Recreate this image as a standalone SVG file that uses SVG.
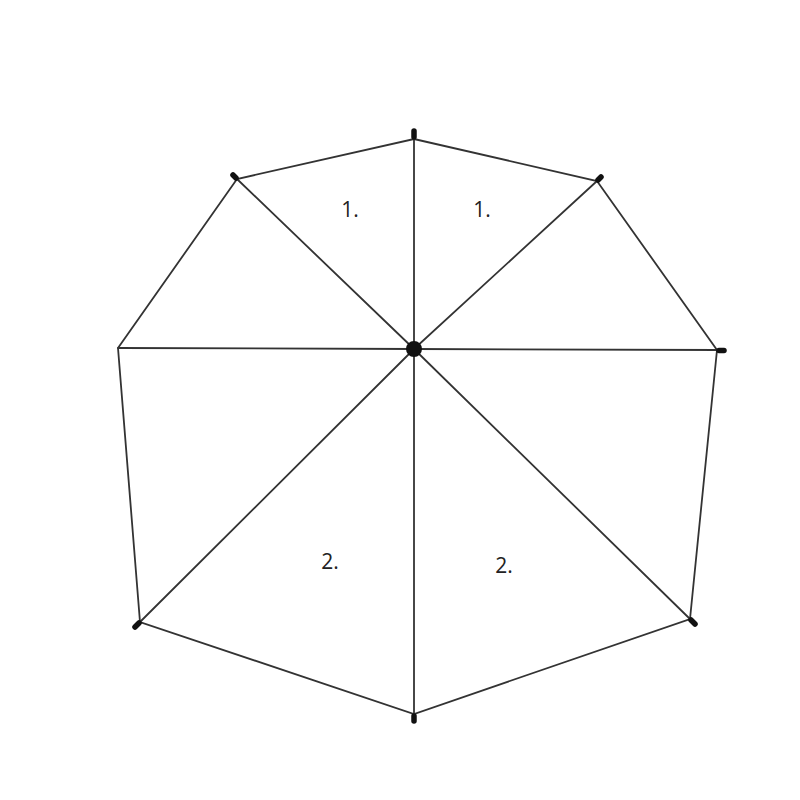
<svg xmlns="http://www.w3.org/2000/svg" width="800" height="800" viewBox="0 0 800 800">
<style>
.e{stroke:#333;stroke-width:1.8;fill:none;stroke-linecap:round}
.t{stroke:#111;stroke-width:5.5;stroke-linecap:round}
.l{font-family:"Open Sans","DejaVu Sans",sans-serif;font-size:21px;fill:#222;text-anchor:middle}
</style>
<rect width="800" height="800" fill="#fff"/>
<g id="connectors">
<polygon class="e" points="414,139 597,181 717,350 690,619 414,714 140,622 118,348 237,179"/>
<line class="e" x1="414" y1="349" x2="414" y2="139"/>
<line class="e" x1="414" y1="349" x2="597" y2="181"/>
<line class="e" x1="414" y1="349" x2="717" y2="350"/>
<line class="e" x1="414" y1="349" x2="690" y2="619"/>
<line class="e" x1="414" y1="349" x2="414" y2="714"/>
<line class="e" x1="414" y1="349" x2="140" y2="622"/>
<line class="e" x1="414" y1="349" x2="118" y2="348"/>
<line class="e" x1="414" y1="349" x2="237" y2="179"/>
</g>
<g id="tips">
<line class="t" x1="414" y1="137" x2="414" y2="131"/>
<line class="t" x1="598" y1="180" x2="601" y2="177"/>
<line class="t" x1="719" y1="350.5" x2="724" y2="350.5"/>
<line class="t" x1="691" y1="620" x2="695" y2="624"/>
<line class="t" x1="414" y1="716" x2="414" y2="721"/>
<line class="t" x1="139" y1="623" x2="135" y2="627"/>
<line class="t" x1="236" y1="178" x2="233" y2="175"/>
</g>
<g id="center"><circle cx="414" cy="349" r="8" fill="#111"/></g>
<g id="label1a"><text class="l" x="350" y="217">1.</text></g>
<g id="label1b"><text class="l" x="482" y="217">1.</text></g>
<g id="label2a"><text class="l" x="330" y="569">2.</text></g>
<g id="label2b"><text class="l" x="504" y="573">2.</text></g>
</svg>
